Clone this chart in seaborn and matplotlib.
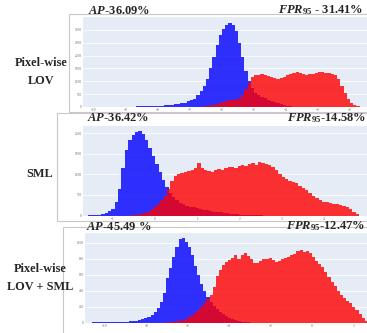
import numpy as np
import pandas as pd
import matplotlib
matplotlib.use('Agg')
import matplotlib.pyplot as plt
from matplotlib.patches import Rectangle
import seaborn as sns

# ---- data (bin heights) ----
# Pixel-wise LOV
lov_blue_start, lov_red_start, lov_width = -10.3, -7.5, 0.1
lov_blue = [4, 5, 6, 6, 7, 8, 8, 9, 10, 11,
            12, 13, 14, 16, 17, 19, 21, 23, 26, 29,
            33, 37, 42, 48, 55, 63, 73, 85, 100, 120,
            145, 175, 215, 265, 330, 480, 620, 800, 1100, 1500,
            1950, 2400, 2800, 3050, 3200, 3280, 3200, 2950, 2500, 1950,
            1400, 1000, 720, 560, 470, 400, 340, 290, 240, 190,
            150, 110, 75, 45, 25, 10]
lov_red = [2, 3, 4, 5, 6, 8, 10, 14, 18, 24,
           40, 60, 90, 130, 170, 210, 250, 270, 280, 300,
           330, 480, 700, 950, 1150, 1260,
           1240, 1280, 1230, 1200,
           1170, 1140, 1100, 1130, 1180,
           1230, 1280, 1340, 1370, 1330,
           1280, 1250, 1270, 1300, 1320,
           1350, 1360, 1320, 1340, 1290,
           1230, 1080, 820, 530, 300,
           160, 80, 35, 10]

# SML
sml_blue_start, sml_red_start, sml_width = -1.6, -0.6, 0.08
sml_blue = [5, 8, 12, 20, 35, 60, 100, 170, 330, 650, 1150, 1600,
            1850, 1950, 2040, 2070, 1980, 1850, 1650, 1450,
            1250, 1050, 860, 700, 560, 450, 370, 310,
            270, 240, 215, 195, 175, 155, 140, 125,
            110, 95, 85, 75, 65, 55, 45, 38,
            30, 24, 18, 13, 9, 6, 4, 2]
sml_red = [5, 10, 18, 30, 55, 90, 140, 210,
           290, 380, 480, 650, 850, 960, 1020, 1040,
           1060, 1080, 1120, 1150, 1280, 1160, 1100, 1080,
           1050, 1100, 1130, 1110, 1150, 1170, 1190, 1160,
           1200, 1230, 1210, 1250, 1270, 1240, 1310, 1280,
           1250, 1220, 1180, 1100, 1000, 940, 890, 850,
           820, 780, 720, 660, 620, 560, 480, 420,
           370, 340, 320, 300, 290, 280, 260, 240,
           210, 160, 90, 30]

# Pixel-wise LOV + SML
both_blue_start, both_red_start, both_width = -10.95, -7.05, 0.15
both_blue = [2, 2, 3, 3, 3, 4, 4, 5, 5, 6,
             7, 8, 10, 12, 15, 19, 24, 30, 40, 55,
             75, 100, 135, 180, 260, 370, 560, 680, 820, 950,
             1040, 1055, 1010, 940, 840, 710, 590, 480, 400, 320,
             260, 210, 170, 135, 105, 80, 60, 45, 32, 22,
             14, 8, 3]
both_red = [5, 8, 12, 18, 25, 35, 50, 70, 95, 125,
            160, 200, 240, 290, 350, 450, 580, 660, 720, 760,
            780, 810, 840, 800, 850, 870, 830, 790, 750, 740,
            770, 790, 800, 810, 780, 760, 770, 790, 810, 820,
            840, 860, 890, 910, 880, 900, 870, 820, 770, 730,
            690, 630, 570, 510, 460, 400, 350, 310, 270, 240,
            200, 160, 110, 60, 20]

row_labels = ['Pixel-wise\nLOV', 'SML', 'Pixel-wise\nLOV + SML']
ap_texts = [r'$AP$-36.09%', r'$AP$-36.42%', r'$AP$-45.49 %']
fpr_texts = [r'$FPR_{95}$ - 31.41%', r'$FPR_{95}$-14.58%', r'$FPR_{95}$-12.47%']
xticks_list = [list(range(-10, -1)), list(range(-1, 5)), list(range(-10, 3, 2))]
yticks_list = [list(range(0, 3001, 500)), list(range(0, 2001, 500)), list(range(0, 1001, 200))]

sns.set_style('darkgrid', {'axes.facecolor': '#E5ECF6', 'grid.color': 'white'})
plt.rcParams['font.family'] = ['Liberation Serif', 'DejaVu Serif']
plt.rcParams['mathtext.fontset'] = 'custom'
plt.rcParams['mathtext.rm'] = 'Liberation Serif:bold'
plt.rcParams['mathtext.bf'] = 'Liberation Serif:bold'
plt.rcParams['mathtext.it'] = 'Liberation Serif:italic:bold'

W, H = 367, 333
fig = plt.figure(figsize=(W / 100, H / 100), dpi=100)
fig.patch.set_facecolor('white')


def fx(px):
    return px / W


def fy(py):
    return 1 - py / H


def hist_frame(start, width, heights):
    edges = start + width * np.arange(len(heights) + 1)
    df = pd.DataFrame({'score': edges[:-1] + width / 2, 'count': heights})
    return df, edges.tolist()


panels = [
    # box (x0, y0, x1, y1), axes (l, t, r, b) in pixels
    dict(box=(69, 14, 369, 112), ax=(83, 17, 367, 107), xlim=(-10.34, -1.47), ylim=(0, 3500),
         lab=(41, 72), ty=10.5, apx=88, fprx=278,
         blue=(lov_blue_start, lov_width, lov_blue), red=(lov_red_start, lov_width, lov_red)),
    dict(box=(57, 113, 369, 221), ax=(83, 126, 367, 215.5), xlim=(-1.713, 5.03), ylim=(0, 2180),
         lab=(40, 174), ty=118.5, apx=87, fprx=287,
         blue=(sml_blue_start, sml_width, sml_blue), red=(sml_red_start, sml_width, sml_red)),
    dict(box=(63, 227, 369, 334), ax=(85, 233, 367, 322.7), xlim=(-10.97, 2.66), ylim=(0, 1120),
         lab=(40, 278), ty=226.5, apx=86, fprx=286,
         blue=(both_blue_start, both_width, both_blue), red=(both_red_start, both_width, both_red)),
]

for i, p in enumerate(panels):
    x0, y0, x1, y1 = p['box']
    fig.add_artist(Rectangle((fx(x0), fy(y1)), (x1 - x0) / W, (y1 - y0) / H,
                             transform=fig.transFigure, facecolor='white',
                             edgecolor='#c8c8c8', lw=0.8, zorder=0))
    l, t, r, b = p['ax']
    ax = fig.add_axes([fx(l), fy(b), (r - l) / W, (b - t) / H])
    ax.set_zorder(1)

    for key, col in (('blue', '#0000ff'), ('red', '#ff0000')):
        df, edges = hist_frame(*p[key])
        sns.histplot(data=df, x='score', weights='count', bins=edges, element='step',
                     fill=True, color=col, alpha=0.8, linewidth=0, ax=ax)

    ax.set_xlim(*p['xlim'])
    ax.set_ylim(*p['ylim'])
    ax.set_xticks(xticks_list[i])
    ax.set_yticks(yticks_list[i])
    ax.set_xlabel('')
    ax.set_ylabel('')
    ax.grid(axis='x', visible=False)
    ax.grid(axis='y', color='white', lw=0.5)
    ax.tick_params(labelsize=2.5, colors='#666666', length=0, pad=0.8)
    for s in ax.spines.values():
        s.set_visible(False)

    fig.text(fx(p['lab'][0]), fy(p['lab'][1]), row_labels[i], ha='center', va='center',
             fontsize=8.8, fontweight='bold', linespacing=1.6)
    fig.text(fx(p['apx']), fy(p['ty']), ap_texts[i], ha='left', va='center',
             fontsize=9, fontweight='bold')
    fig.text(fx(p['fprx']), fy(p['ty']), fpr_texts[i], ha='left', va='center',
             fontsize=9, fontweight='bold')

fig.savefig('out.png', dpi=100)
